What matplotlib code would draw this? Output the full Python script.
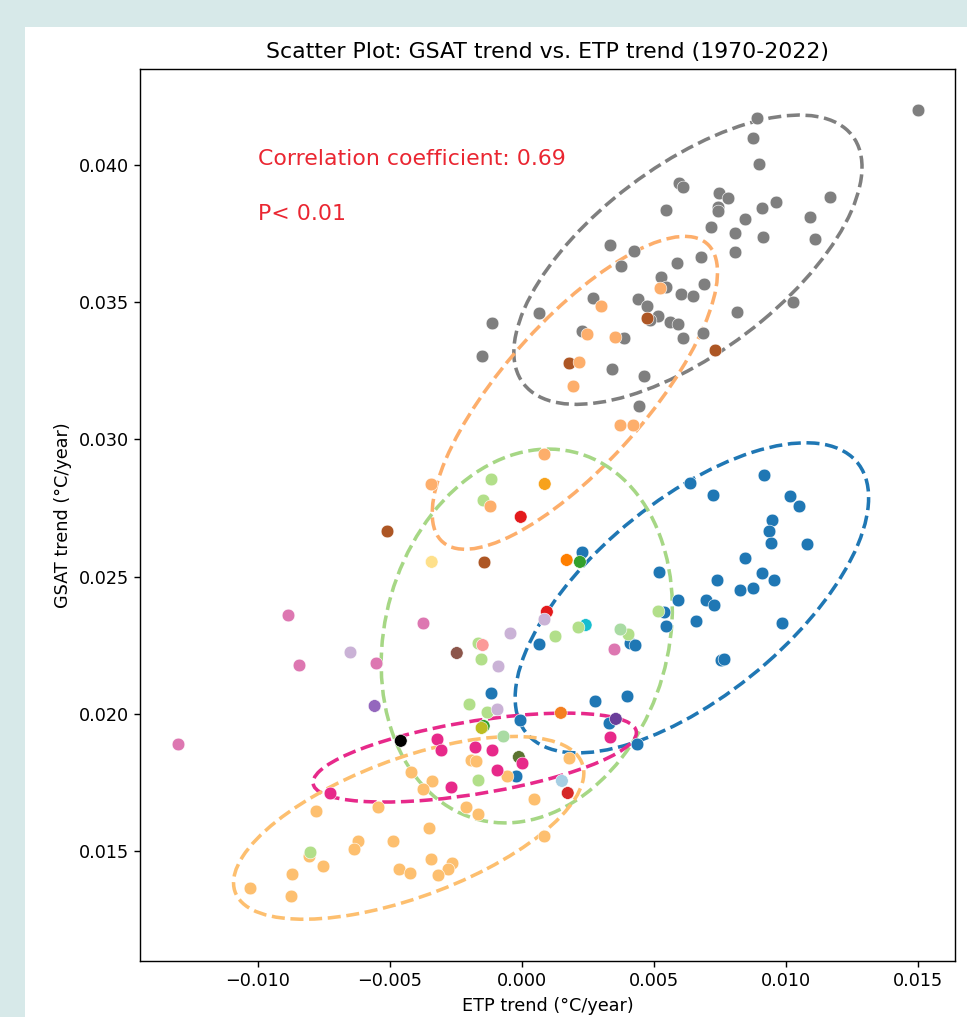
import numpy as np
import matplotlib
matplotlib.use("Agg")
import matplotlib.pyplot as plt
import matplotlib.transforms as transforms
from matplotlib.patches import Ellipse, Rectangle

# ETP trend (x) vs GSAT trend (y), one list pair per model group
gray_x = [0.00890, 0.00875, 0.00898, 0.00595, 0.00610, 0.00746, 0.00780, 0.01167, 0.00545, 0.00742,
          0.00742, 0.00909, 0.00962, 0.00845, 0.01091, 0.00716, 0.00807, 0.00913, 0.01110, 0.00333,
          0.00424, 0.00375, 0.00807, 0.00587, 0.00678, 0.00527, 0.00545, 0.00689, 0.00602, 0.00648,
          0.00269, 0.00439, 0.00473, 0.00064, 0.00515, 0.00485, 0.00561, 0.00591, 0.00814, 0.01027,
          0.00227, 0.00386, 0.00610, 0.00686, 0.00341, 0.00462, 0.00443, -0.00114, -0.00152, 0.01500]
gray_y = [0.04172, 0.04099, 0.04004, 0.03935, 0.03921, 0.03899, 0.03880, 0.03884, 0.03837, 0.03848,
          0.03833, 0.03844, 0.03866, 0.03804, 0.03811, 0.03775, 0.03753, 0.03738, 0.03731, 0.03709,
          0.03687, 0.03633, 0.03684, 0.03644, 0.03665, 0.03593, 0.03556, 0.03567, 0.03531, 0.03523,
          0.03516, 0.03512, 0.03487, 0.03461, 0.03450, 0.03436, 0.03429, 0.03421, 0.03465, 0.03501,
          0.03396, 0.03370, 0.03370, 0.03388, 0.03257, 0.03232, 0.03122, 0.03425, 0.03305, 0.04201]

upper_orange_x = [0.00523, 0.00299, 0.00246, 0.00352, 0.00216, 0.00193, 0.00371, 0.00420, 0.00083, -0.00345, -0.00121]
upper_orange_y = [0.03552, 0.03487, 0.03385, 0.03374, 0.03283, 0.03195, 0.03053, 0.03053, 0.02948, 0.02838, 0.02758]

brown_x = [0.00473, 0.00178, 0.00731, -0.00511, -0.00144]
brown_y = [0.03443, 0.03279, 0.03327, 0.02667, 0.02554]

blue_x = [0.00636, 0.00917, 0.00723, 0.01015, 0.01049, 0.00947, 0.00936, 0.00943, 0.01080, 0.00845,
          0.00519, 0.00739, 0.00909, 0.00955, 0.00826, 0.00875, 0.00591, 0.00697, 0.00727, 0.00659,
          0.00985, 0.00538, 0.00545, 0.00754, 0.00765, 0.00064, 0.00409, 0.00428, 0.00227, -0.00117,
          0.00277, 0.00398, -0.00008, 0.00330, 0.00436, -0.00023]
blue_y = [0.02842, 0.02871, 0.02798, 0.02794, 0.02758, 0.02707, 0.02667, 0.02623, 0.02620, 0.02569,
          0.02517, 0.02488, 0.02514, 0.02488, 0.02452, 0.02459, 0.02415, 0.02415, 0.02397, 0.02339,
          0.02332, 0.02372, 0.02321, 0.02197, 0.02200, 0.02255, 0.02259, 0.02251, 0.02590, 0.02077,
          0.02047, 0.02066, 0.01978, 0.01967, 0.01891, 0.01774]

light_green_x = [-0.00167, -0.00155, 0.00125, 0.00212, 0.00402, 0.00515, -0.00117, -0.00148,
                 -0.00201, -0.00133, -0.00167, -0.00803]
light_green_y = [0.02259, 0.02200, 0.02284, 0.02317, 0.02292, 0.02375, 0.02856, 0.02780,
                 0.02036, 0.02007, 0.01759, 0.01497]
pale_green_x = [0.00371, -0.00072]
pale_green_y = [0.02310, 0.01920]

lower_orange_x = [-0.00420, -0.00341, -0.00375, -0.00193, -0.00174, -0.00057, 0.00178, 0.00045,
                  -0.00212, -0.00167, -0.00352, -0.00545, -0.00777, 0.00083, -0.00621, -0.00636,
                  -0.00489, -0.00807, -0.00754, -0.00871, -0.00345, -0.00466, -0.00424, -0.00265,
                  -0.00280, -0.00318, -0.01030, -0.00875]
lower_orange_y = [0.01789, 0.01756, 0.01727, 0.01832, 0.01829, 0.01774, 0.01840, 0.01690,
                  0.01661, 0.01636, 0.01585, 0.01661, 0.01647, 0.01555, 0.01537, 0.01508,
                  0.01537, 0.01482, 0.01446, 0.01417, 0.01472, 0.01435, 0.01421, 0.01457,
                  0.01435, 0.01413, 0.01366, 0.01337]

magenta_x = [-0.00322, -0.00307, -0.00178, -0.00114, 0.00000, -0.00095, -0.00269, 0.00333, -0.00727]
magenta_y = [0.01909, 0.01869, 0.01880, 0.01869, 0.01821, 0.01796, 0.01734, 0.01916, 0.01712]

pink_x = [-0.00886, -0.00845, -0.00553, -0.01303, -0.00375, 0.00348]
pink_y = [0.02361, 0.02179, 0.02186, 0.01891, 0.02332, 0.02237]

lilac_x = [0.00083, -0.00045, -0.00091, -0.00095, -0.00652]
lilac_y = [0.02346, 0.02295, 0.02175, 0.02018, 0.02226]

# single-member models, drawn underneath the main groups
back_x = [0.00242, -0.00004, 0.00095, 0.00220, -0.00144, -0.00011, 0.00170, 0.00148,
          0.00087, -0.00341, -0.00246, 0.00152, 0.00174]
back_y = [0.02324, 0.02718, 0.02372, 0.02554, 0.01956, 0.01843, 0.02561, 0.02004,
          0.02838, 0.02554, 0.02222, 0.01756, 0.01712]
back_colors = ['#17becf', '#e31a1c', '#e31a1c', '#33a02c', '#33a02c', '#5b7330', '#ff7f00', '#f47f20',
               '#f7a21b', '#fee08b', '#8c564b', '#a6cee3', '#d62728']

# single-member models, drawn on top
front_x = [-0.00557, 0.00356, -0.00148, -0.00458, -0.00152]
front_y = [0.02029, 0.01982, 0.02251, 0.01902, 0.01949]
front_colors = ['#9467bd', '#6a3d9a', '#fb9a99', 'black', '#bcbd22']

# spread ellipses: centre, half extent along x / y, correlation
ell_cx = [0.00629, 0.00201, 0.00644, 0.00019, -0.00178, -0.00428]
ell_cy = [0.03655, 0.03170, 0.02423, 0.02284, 0.01841, 0.01585]
ell_hx = [0.00659, 0.00540, 0.00669, 0.00551, 0.00612, 0.00663]
ell_hy = [0.00527, 0.00570, 0.00565, 0.00681, 0.00162, 0.00333]
ell_rho = [0.64, 0.77, 0.645, 0.15, 0.56, 0.60]
ell_colors = ['#7f7f7f', '#fdae6b', '#1f77b4', '#a6d785', '#e7298a', '#fdbf6f']

S = 1.27  # scale of fonts / lines

plt.rcParams['font.family'] = 'DejaVu Sans'
plt.rcParams['xtick.labelsize'] = 10 * S
plt.rcParams['ytick.labelsize'] = 10 * S
plt.rcParams['xtick.major.size'] = 3.5 * S
plt.rcParams['ytick.major.size'] = 3.5 * S
plt.rcParams['xtick.major.width'] = 0.8 * S
plt.rcParams['ytick.major.width'] = 0.8 * S
plt.rcParams['axes.linewidth'] = 0.8 * S

fig = plt.figure(figsize=(9.67, 10.17), dpi=100, facecolor='#d7e9e9')
fig.patches.append(Rectangle((25 / 967, 0), 1, (1017 - 27) / 1017, transform=fig.transFigure,
                             facecolor='white', edgecolor='none', zorder=-10))
ax = fig.add_axes([0.1448, 0.0551, 0.8428, 0.8771])
ax.set_zorder(1)


def draw_ellipse(cx, cy, hx, hy, rho, color):
    ell = Ellipse((0, 0), width=2 * np.sqrt(1 + rho), height=2 * np.sqrt(1 - rho),
                  fill=False, ls='--', lw=2 * S, edgecolor=color, zorder=1)
    tr = transforms.Affine2D().rotate_deg(45).scale(hx, hy).translate(cx, cy)
    ell.set_transform(tr + ax.transData)
    ax.add_patch(ell)


for i in range(len(ell_cx)):
    draw_ellipse(ell_cx[i], ell_cy[i], ell_hx[i], ell_hy[i], ell_rho[i], ell_colors[i])

kw = dict(s=84, edgecolors='white', linewidths=0.4, zorder=2)
ax.scatter(blue_x, blue_y, c='#1f77b4', **kw)
ax.scatter(back_x, back_y, c=back_colors, **kw)
ax.scatter(gray_x, gray_y, c='#7f7f7f', **kw)
ax.scatter(brown_x, brown_y, c='#ad5624', **kw)
ax.scatter(lower_orange_x, lower_orange_y, c='#fdbf6f', **kw)
ax.scatter(light_green_x, light_green_y, c='#b2df8a', **kw)
ax.scatter(pale_green_x, pale_green_y, c='#a9dba3', **kw)
ax.scatter(upper_orange_x, upper_orange_y, c='#fdae6b', **kw)
ax.scatter(magenta_x, magenta_y, c='#e7298a', **kw)
ax.scatter(pink_x, pink_y, c='#dd77b1', **kw)
ax.scatter(lilac_x, lilac_y, c='#cab2d6', **kw)
ax.scatter(front_x, front_y, c=front_colors, **kw)

ax.text(-0.010, 0.040, 'Correlation coefficient: 0.69', color='#ea2631', fontsize=15.8)
ax.text(-0.010, 0.038, 'P< 0.01', color='#ea2631', fontsize=15.8)

ax.set_xlim(-0.01445, 0.0164)
ax.set_ylim(0.0110, 0.0435)
ax.set_xticks([-0.010, -0.005, 0.000, 0.005, 0.010, 0.015])
ax.set_yticks([0.015, 0.020, 0.025, 0.030, 0.035, 0.040])
ax.set_xlabel('ETP trend (°C/year)', fontsize=10 * S, labelpad=4 * S)
ax.set_ylabel('GSAT trend (°C/year)', fontsize=10 * S, labelpad=4 * S)
ax.set_title('Scatter Plot: GSAT trend vs. ETP trend (1970-2022)', fontsize=15.8, pad=6 * S)

fig.savefig('out.png', dpi=100, facecolor=fig.get_facecolor())
